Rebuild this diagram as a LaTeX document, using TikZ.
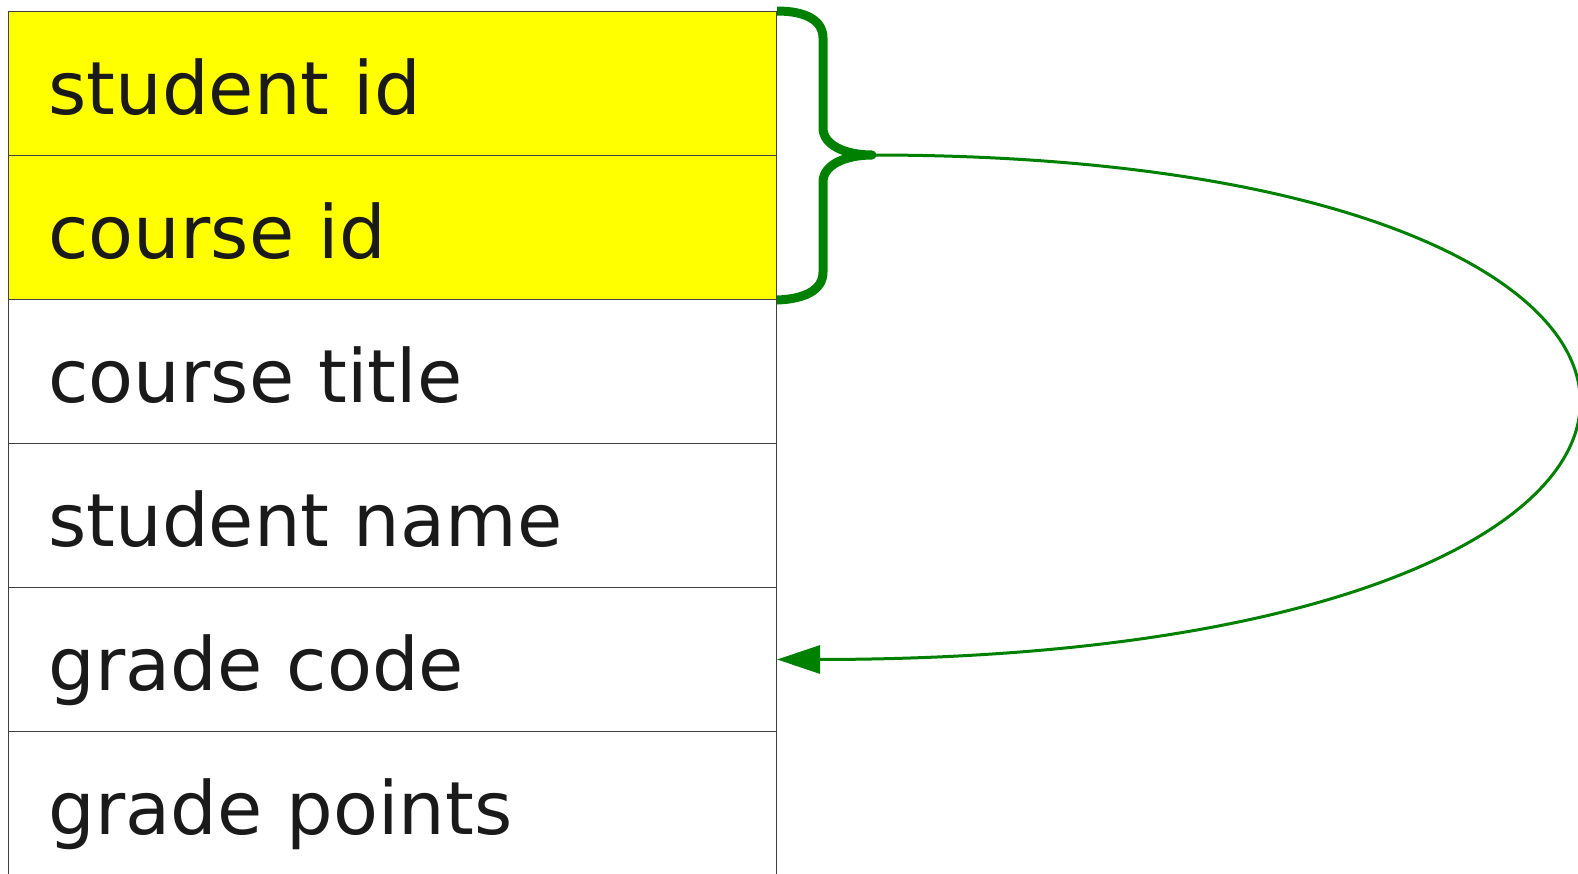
\documentclass[tikz,border=0pt]{standalone}
\usepackage{fontspec}
\setmainfont{DejaVu Sans}
\usetikzlibrary{arrows.meta}
\definecolor{linkgreen}{RGB}{0,128,0}
\definecolor{txt}{RGB}{26,26,26}
\definecolor{keyfill}{RGB}{255,255,0}
\begin{document}
\begin{tikzpicture}[x=1pt,y=-1pt,
  row/.style={draw=black!75, line width=1pt, anchor=north west, text width=688pt, align=left,
    minimum height=144pt, inner xsep=40pt, inner ysep=0pt, text height=72pt, text depth=10pt,
    text=txt, font=\fontsize{73.5}{80}\selectfont},
  key/.style={row, fill=keyfill},
  brace/.style={draw=linkgreen, line width=9pt, line join=round},
  link/.style={draw=linkgreen, line width=3pt, -{Triangle[length=43pt,width=28pt]}}]
\useasboundingbox (0,0) rectangle (1578,873);
\clip (0,0) rectangle (1578,873);
\node[key] (r1) at (8,11) {student id};
\node[key] (r2) at (8,155) {course id};
\node[row] (r3) at (8,299) {course title};
\node[row] (r4) at (8,443) {student name};
\node[row] (r5) at (8,587) {grade code};
\node[row] (r6) at (8,731) {grade points};
\coordinate (tip) at (872,155);
\path[brace] (r1.north east) .. controls (805,11) and (823,20) .. (823,38) -- (823,128)
  .. controls (823,145) and (845,155) .. (tip)
  .. controls (845,155) and (823,165) .. (823,182) -- (823,272)
  .. controls (823,290) and (805,299) .. (r2.south east);
\path[link] (tip) .. controls (1825,155) and (1825,659) .. (r5.east);
\end{tikzpicture}
\end{document}
